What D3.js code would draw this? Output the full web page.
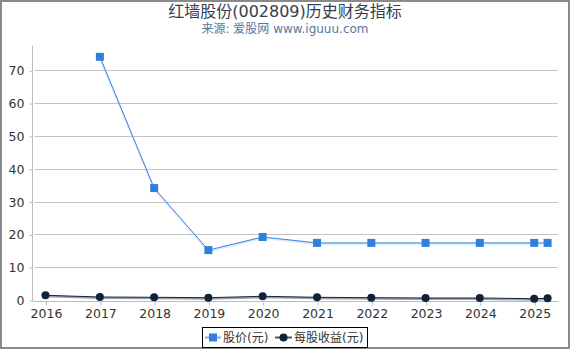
<!DOCTYPE html>
<html>
<head>
<meta charset="utf-8">
<script src="https://cdn.jsdelivr.net/npm/d3@7"></script>
<style>
  html, body { margin: 0; padding: 0; background: #fff; }
  svg { display: block; font-family: "DejaVu Sans", "Noto Sans CJK SC", sans-serif; }
</style>
</head>
<body>
<div id="chart"></div>
<script>
const title = "红墙股份(002809)历史财务指标"
const subtitle = "来源: 爱股网 www.iguuu.com"
const seriesNames = ["股价(元)", "每股收益(元)"]
const yTicks = [0, 10, 20, 30, 40, 50, 60, 70]
const yearTicks = [2016, 2017, 2018, 2019, 2020, 2021, 2022, 2023, 2024, 2025]

// dates of the points (year, month index)
const priceDates = [[2017, 0], [2018, 0], [2019, 0], [2020, 0], [2021, 0], [2022, 0], [2023, 0], [2024, 0], [2025, 0], [2025, 3]]
const priceValues = [74.1, 34.1, 15.2, 19.2, 17.4, 17.4, 17.4, 17.4, 17.4, 17.4]
const epsDates = [[2016, 0], [2017, 0], [2018, 0], [2019, 0], [2020, 0], [2021, 0], [2022, 0], [2023, 0], [2024, 0], [2025, 0], [2025, 3]]
const epsValues = [1.43, 0.91, 0.82, 0.7, 1.13, 0.82, 0.7, 0.61, 0.61, 0.4, 0.52]

const width = 570, height = 350
const svg = d3.select('#chart').append('svg')
    .attr('width', width)
    .attr('height', height)

// frame
svg.append('rect')
    .attr('x', 1).attr('y', 1)
    .attr('width', width - 2).attr('height', height - 3)
    .attr('fill', 'none')
    .attr('stroke', '#8a8a8a')
    .attr('stroke-width', 2)

svg.append('text')
    .attr('x', 285).attr('y', 17)
    .attr('text-anchor', 'middle')
    .attr('font-size', 16)
    .attr('fill', '#34404f')
    .text(title)

svg.append('text')
    .attr('x', 285).attr('y', 33)
    .attr('text-anchor', 'middle')
    .attr('font-size', 12)
    .attr('fill', '#5b7699')
    .text(subtitle)

const plot = {left: 33, right: 558, top: 45, bottom: 300}

const x = d3.scaleTime()
    .domain([new Date(2015, 9, 9), new Date(2025, 5, 10)])
    .range([plot.left, plot.right])

const y = d3.scaleLinear()
    .domain([0, 77.7])
    .range([plot.bottom, plot.top])

// grid
svg.append('g')
    .selectAll('line')
    .data(yTicks.filter(d => d > 0))
    .enter()
    .append('line')
    .attr('x1', plot.left + 2).attr('x2', plot.right)
    .attr('y1', d => Math.round(y(d)) + 0.5)
    .attr('y2', d => Math.round(y(d)) + 0.5)
    .attr('stroke', '#c4c4c4')
    .attr('stroke-width', 1)

// y axis
const yAxis = svg.append('g')
    .attr('transform', `translate(${plot.left - 0.5},0.5)`)
    .call(d3.axisLeft(y).tickValues(yTicks).tickSize(3).tickPadding(5))
yAxis.select('.domain').attr('stroke', '#bdbdbd').attr('d', `M-0,${plot.top}V${plot.bottom + 1}`)
yAxis.selectAll('.tick line').attr('stroke', '#bdbdbd')
yAxis.selectAll('.tick text').attr('font-size', 12.5).attr('fill', '#333')
    .attr('font-family', '"DejaVu Sans", sans-serif')

// x axis
const xAxis = svg.append('g')
    .attr('transform', `translate(0.5,${plot.bottom + 1.5})`)
    .call(d3.axisBottom(x).tickValues(yearTicks.map(yr => new Date(yr, 0, 1)))
        .tickFormat(d3.timeFormat('%Y')).tickSize(4).tickPadding(4))
xAxis.select('.domain').attr('stroke', '#bdbdbd').attr('d', `M${plot.left},0H${plot.right}`)
xAxis.selectAll('.tick line').attr('stroke', '#bdbdbd')
xAxis.selectAll('.tick text').attr('font-size', 12.5).attr('fill', '#333')
    .attr('font-family', '"DejaVu Sans", sans-serif')

const priceData = priceDates.map((d, i) => ({date: new Date(d[0], d[1], 1), value: priceValues[i]}))
const epsData = epsDates.map((d, i) => ({date: new Date(d[0], d[1], 1), value: epsValues[i]}))

const line = d3.line()
    .x(d => x(d.date))
    .y(d => y(d.value))

// eps series
svg.append('path')
    .datum(epsData)
    .attr('d', line)
    .attr('fill', 'none')
    .attr('stroke', '#98a2ae')
    .attr('stroke-width', 2)
    .attr('transform', 'translate(0,1)')
svg.append('path')
    .datum(epsData)
    .attr('d', line)
    .attr('fill', 'none')
    .attr('stroke', '#13243b')
    .attr('stroke-width', 1)
svg.append('g')
    .selectAll('circle')
    .data(epsData)
    .enter()
    .append('circle')
    .attr('cx', d => x(d.date))
    .attr('cy', d => y(d.value))
    .attr('r', 4)
    .attr('fill', '#10223a')

// price series
svg.append('path')
    .datum(priceData)
    .attr('d', line)
    .attr('fill', 'none')
    .attr('stroke', '#b8d4f3')
    .attr('stroke-width', 2)
    .attr('stroke-opacity', 0.5)
    .attr('transform', 'translate(0,1)')
svg.append('path')
    .datum(priceData)
    .attr('d', line)
    .attr('fill', 'none')
    .attr('stroke', '#3a86dc')
    .attr('stroke-width', 1)
svg.append('g')
    .selectAll('rect')
    .data(priceData)
    .enter()
    .append('rect')
    .attr('x', d => x(d.date) - 4)
    .attr('y', d => y(d.value) - 4)
    .attr('width', 8)
    .attr('height', 8)
    .attr('fill', '#2f7fdb')

// legend
const legend = svg.append('g')
legend.append('rect')
    .attr('x', 202.5).attr('y', 327.5)
    .attr('width', 165).attr('height', 20)
    .attr('fill', '#fff')
    .attr('stroke', '#000')
    .attr('stroke-width', 1)
legend.append('line')
    .attr('x1', 205).attr('x2', 221).attr('y1', 337.5).attr('y2', 337.5)
    .attr('stroke', '#7fb0e8').attr('stroke-width', 2)
legend.append('rect')
    .attr('x', 209).attr('y', 333.5).attr('width', 8).attr('height', 8)
    .attr('fill', '#2f7fdb')
legend.append('text')
    .attr('x', 223).attr('y', 342)
    .attr('font-size', 12).attr('fill', '#333')
    .text(seriesNames[0])
legend.append('line')
    .attr('x1', 275).attr('x2', 292).attr('y1', 337.5).attr('y2', 337.5)
    .attr('stroke', '#4a5868').attr('stroke-width', 2)
legend.append('circle')
    .attr('cx', 283.5).attr('cy', 337.5).attr('r', 4)
    .attr('fill', '#10223a')
legend.append('text')
    .attr('x', 294).attr('y', 342)
    .attr('font-size', 12).attr('fill', '#333')
    .text(seriesNames[1])
</script>
</body>
</html>
